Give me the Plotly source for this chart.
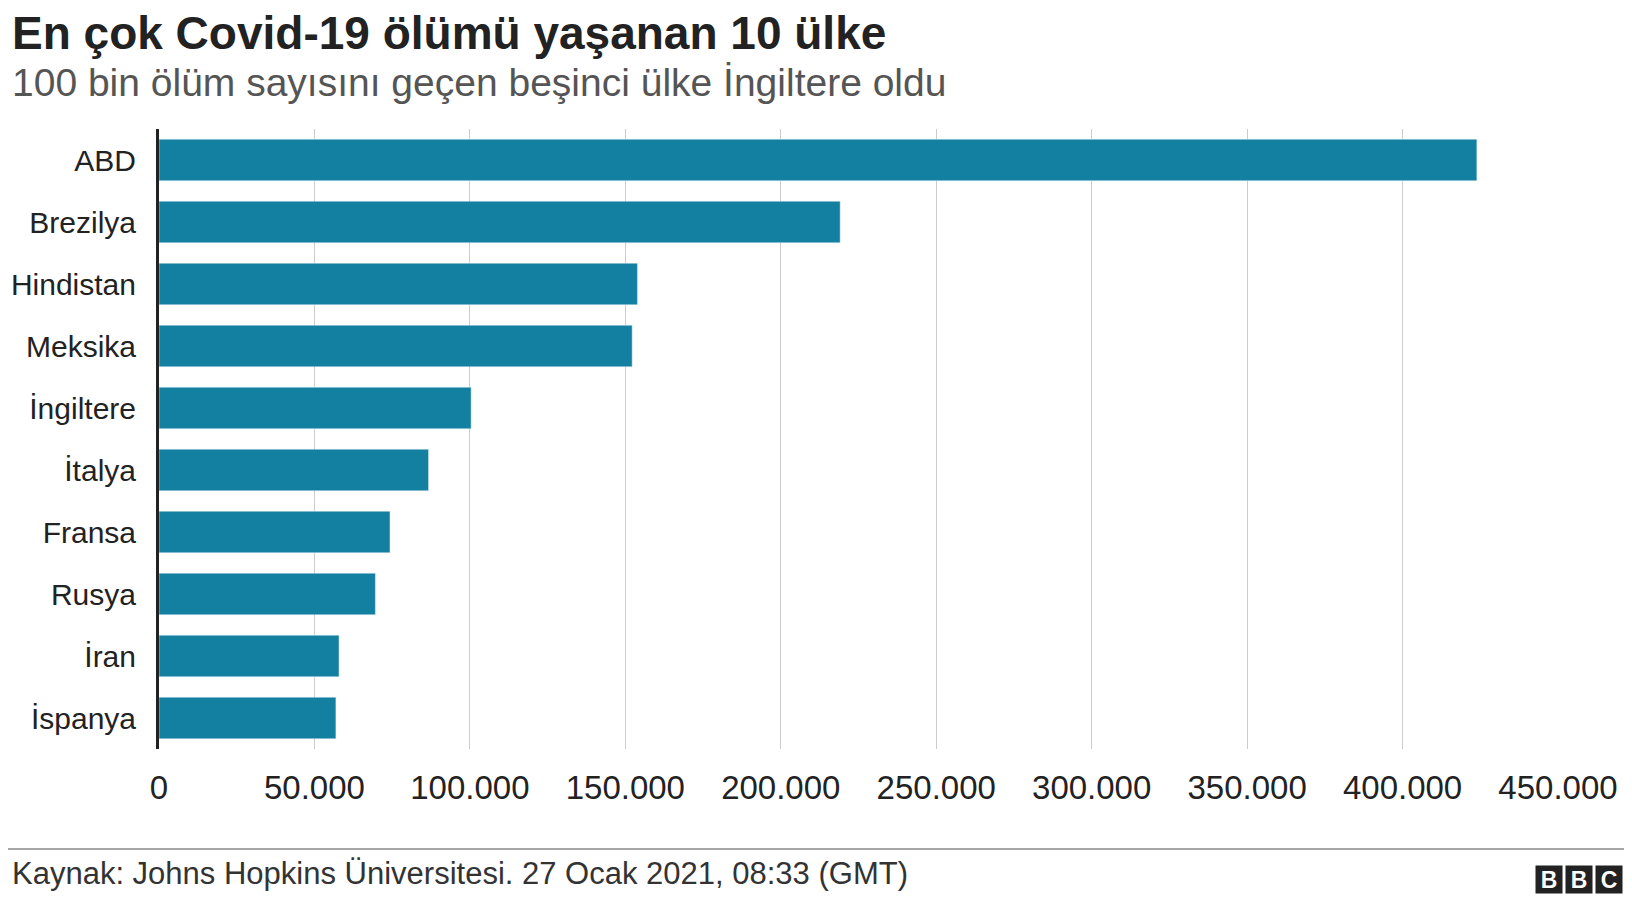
import plotly.graph_objects as go

ulkeler = ["ABD", "Brezilya", "Hindistan", "Meksika", "İngiltere", "İtalya", "Fransa", "Rusya", "İran", "İspanya"]
olumler = [423900, 219100, 153900, 152200, 100400, 86700, 74300, 69600, 57900, 56900]
tick_vals = [0, 50000, 100000, 150000, 200000, 250000, 300000, 350000, 400000, 450000]
tick_text = ["0", "50.000", "100.000", "150.000", "200.000", "250.000", "300.000", "350.000", "400.000", "450.000"]

W, H = 1632, 902
L, R, T, B = 151, 82, 121, 161
PW, PH = W - L - R, H - T - B
fig = go.Figure(go.Bar(x=olumler, y=ulkeler, orientation="h", marker_color="#1380A1", width=0.67))

fig.update_layout(
    width=W, height=H, plot_bgcolor="white", paper_bgcolor="white",
    font=dict(family="Liberation Sans, Arial", color="#222222", size=30),
    margin=dict(l=L, r=R, t=T, b=B, autoexpand=False),
    showlegend=False,
    xaxis=dict(range=[0, 450000], tickvals=tick_vals, ticktext=tick_text, showgrid=True,
               gridcolor="#cccccc", gridwidth=1, zeroline=False, ticks="", ticklabelstandoff=16,
               tickfont=dict(size=33)),
    yaxis=dict(autorange="reversed", ticks="", showline=True, linecolor="#222222", linewidth=3,
               ticklabelstandoff=14),
)

def px(x):
    return (x - L) / PW

def py(y):
    return 1 - (y - T) / PH

fig.add_annotation(text="<b>En çok Covid-19 ölümü yaşanan 10 ülke</b>", xref="paper", yref="paper",
                   x=px(3), y=py(25), xanchor="left", yanchor="middle", showarrow=False,
                   borderpad=0, font=dict(size=46, color="#222222"))
fig.add_annotation(text="100 bin ölüm sayısını geçen beşinci ülke İngiltere oldu", xref="paper", yref="paper",
                   x=px(3), y=py(75), xanchor="left", yanchor="middle", showarrow=False,
                   borderpad=0, font=dict(size=39, color="#555555"))
fig.add_annotation(text="Kaynak: Johns Hopkins Üniversitesi. 27 Ocak 2021, 08:33 (GMT)", xref="paper", yref="paper",
                   x=px(3), y=py(865), xanchor="left", yanchor="middle", showarrow=False,
                   borderpad=0, font=dict(size=31, color="#333333"))
fig.add_shape(type="line", xref="paper", yref="paper", x0=px(0), x1=px(W),
              y0=py(841), y1=py(841), line=dict(color="#888888", width=1.5))
for i, ch in enumerate("BBC"):
    xc = 1541 + i * 30
    fig.add_annotation(text="<b>" + ch + "</b>", xref="paper", yref="paper",
                       x=px(xc), y=py(872), showarrow=False, xanchor="center", yanchor="middle",
                       width=26, height=27, bgcolor="#222222", borderpad=0,
                       font=dict(size=23, color="white", family="Liberation Sans, Arial"))

fig.write_html("out.html")
